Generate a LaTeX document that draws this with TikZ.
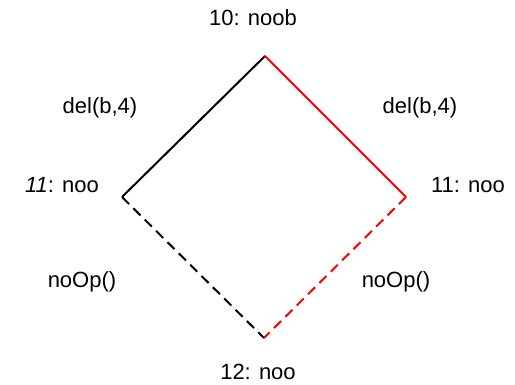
\documentclass[tikz,border=0pt]{standalone}
\usepackage{fontspec}
\setmainfont{Liberation Sans}
\begin{document}
\begin{tikzpicture}[x=1pt,y=-1pt,
  lbl/.style={font=\fontsize{22}{26}\selectfont, inner sep=0pt},
  edge/.style={line width=2pt},
  dsh/.style={line width=2pt, dash pattern=on 10pt off 6pt}]
\useasboundingbox (0,0) rectangle (515,385);
\coordinate (t) at (265,56);
\coordinate (l) at (122,197);
\coordinate (r) at (406,197);
\coordinate (b) at (264,338);
\draw[edge, black] (t) -- (l);
\draw[edge, red] (t) -- (r);
\draw[dsh, black] (l) -- (b);
\draw[dsh, red] (r) -- (b);
\node[lbl] (n10) at (253,18) {10: noob};
\node[lbl] (dl) at (100,108) {del(b,4)};
\node[lbl] (dr) at (420,108) {del(b,4)};
\node[lbl] (n11l) at (62,185) {\textit{11}: noo};
\node[lbl] (n11r) at (468,185) {11: noo};
\node[lbl] (ol) at (82,282) {noOp()};
\node[lbl] (or) at (396,282) {noOp()};
\node[lbl] (n12) at (258,372) {12: noo};
\end{tikzpicture}
\end{document}
